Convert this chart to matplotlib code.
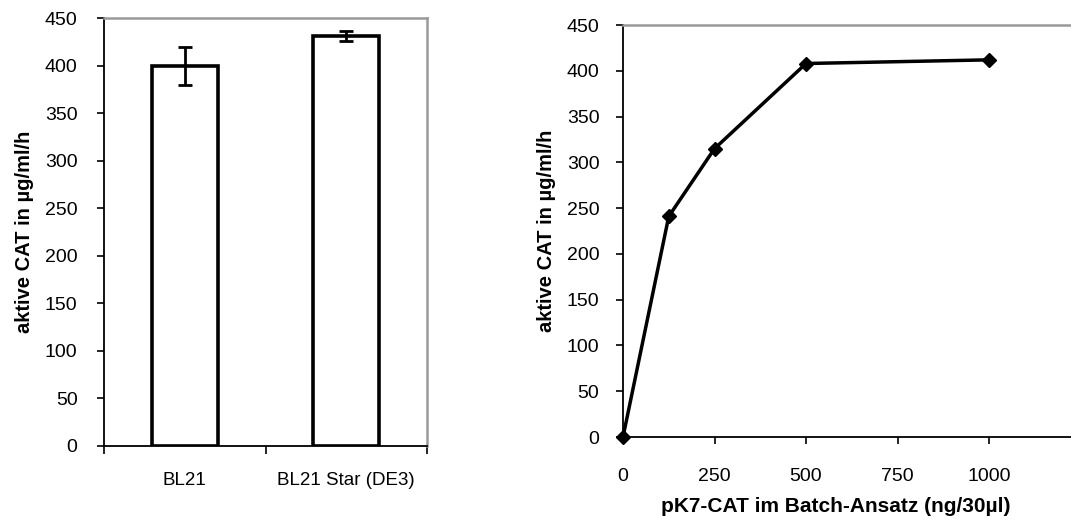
import numpy as np
import matplotlib.pyplot as plt

plt.rcParams['font.family'] = ['Liberation Sans', 'DejaVu Sans']

# bar panel data
strains = ['BL21', 'BL21 Star (DE3)']
activity = [400, 431]
activity_err = [20, 5]

# titration panel data
plasmid_ng = [0, 125, 250, 500, 1000]
activity_curve = [0, 241, 315, 408, 412]

ylab = 'aktive CAT in µg/ml/h'
grey = '#9a9a9a'

fig = plt.figure(figsize=(10.71, 5.22), dpi=100)

# ---- left: bars
ax = fig.add_axes([0.0971, 0.1456, 0.3016, 0.8199])
xpos = np.arange(len(strains))
ax.bar(xpos, activity, width=0.41, facecolor='white', edgecolor='black', lw=2.6, zorder=2)
ax.errorbar(xpos, activity, yerr=activity_err, fmt='none', ecolor='black',
            elinewidth=2, capsize=5, capthick=2, zorder=3)
ax.set_xlim(-0.5, 1.5)
ax.set_ylim(0, 450)
ax.set_yticks(np.arange(0, 451, 50))
ax.set_xticks([-0.5, 0.5, 1.5])
ax.set_xticklabels([])
ax.set_xticks(xpos, minor=True)
ax.set_xticklabels(strains, minor=True)
ax.tick_params(axis='x', which='minor', length=0, pad=19, labelsize=13.5)
ax.tick_params(axis='x', which='major', length=6, width=1.2, direction='out')
ax.tick_params(axis='y', length=5, width=1.2, labelsize=14, pad=14)
ax.set_ylabel(ylab, fontweight='bold', fontsize=14.5, labelpad=8)
for s in ['top', 'right']:
    ax.spines[s].set_color(grey)
    ax.spines[s].set_linewidth(1.8)
for s in ['left', 'bottom']:
    ax.spines[s].set_linewidth(1.3)

# ---- right: titration curve
ax = fig.add_axes([0.5817, 0.1628, 0.4272, 0.7892])
ax.plot(plasmid_ng, activity_curve, c='black', lw=2.5, marker='D', ms=7.5,
        clip_on=False, zorder=3)
ax.set_xlim(0, 1250)
ax.set_ylim(0, 450)
ax.set_xticks([0, 250, 500, 750, 1000])
ax.set_yticks(np.arange(0, 451, 50))
ax.tick_params(axis='x', length=5, width=1.2, pad=17, labelsize=14)
ax.tick_params(axis='y', length=5, width=1.2, labelsize=14, pad=12)
ax.set_ylabel(ylab, fontweight='bold', fontsize=14.5, labelpad=8)
ax.set_xlabel('pK7-CAT im Batch-Ansatz (ng/30µl)', fontweight='bold', fontsize=15)
ax.xaxis.set_label_coords(0.466, -0.145)
for s in ['top', 'right']:
    ax.spines[s].set_color(grey)
    ax.spines[s].set_linewidth(1.8)
for s in ['left', 'bottom']:
    ax.spines[s].set_linewidth(1.3)

plt.savefig('out.png', dpi=100)
